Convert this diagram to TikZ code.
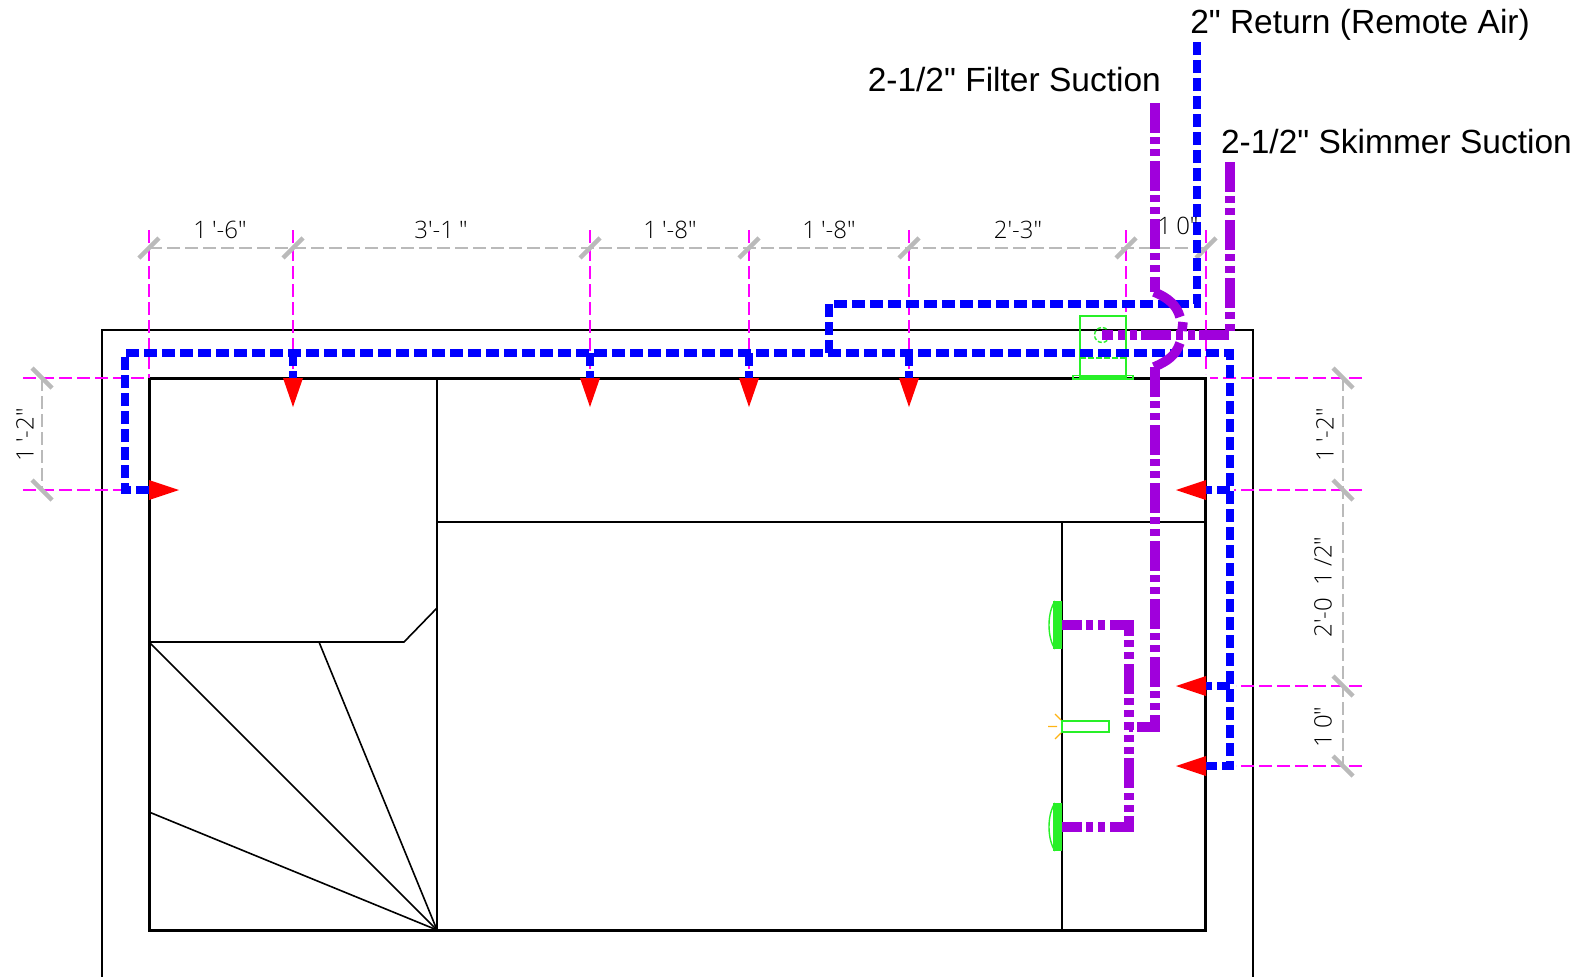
\documentclass[tikz,border=0pt]{standalone}
\usepackage{fontspec}
\newfontfamily\titlefont{Liberation Sans}
\newfontfamily\dimfont{Open Sans Light}
\definecolor{violet2}{RGB}{160,0,220}
\definecolor{green2}{RGB}{40,240,40}
\definecolor{orange2}{RGB}{255,180,20}
\definecolor{magenta2}{RGB}{255,0,255}
\newcommand{\oneg}{1\kern5pt}
\tikzset{
 wall/.style={draw=black,line width=1.8pt},
 pool/.style={draw=black,line width=3pt,line cap=round},
 thin/.style={draw=black,line width=1.6pt},
 mag/.style={draw=magenta2,line width=1.8pt,dash pattern=on 13pt off 5pt},
 dimln/.style={draw=black!27,line width=1.8pt,dash pattern=on 13pt off 5pt},
 tick/.style={draw=black!27,line width=4.5pt},
 blu/.style={draw=blue,line width=8.5pt,dash pattern=on 13pt off 5pt},
 pur/.style={draw=violet2,line width=9.5pt,dash pattern=on 30pt off 4pt on 7pt off 5pt on 7pt off 5pt},
 purs/.style={draw=violet2,line width=9.5pt},
 arw/.style={fill=red,draw=none},
 grn/.style={draw=green2,line width=1.4pt},
 dimtxt/.style={font=\dimfont\fontsize{24}{26}\selectfont,text=black,inner sep=0pt},
 title/.style={font=\titlefont\fontsize{33.5}{35}\selectfont,text=black,inner sep=0pt},
}
\begin{document}
\begin{tikzpicture}[x=1pt,y=-1pt]
\useasboundingbox (0,0) rectangle (1583,977);
\clip (0,0) rectangle (1583,977);
% walls
\draw[wall] (102,980) -- (102,330) -- (1253,330) -- (1253,980);
\draw[pool] (149,378.5) rectangle (1205.5,930);
\draw[thin] (437,378.5) -- (437,930);
\draw[thin] (437,522) -- (1205.5,522);
\draw[thin] (1062,522) -- (1062,930);
\draw[thin] (149,642) -- (404,642) -- (437,608);
\draw[thin] (149,642) -- (437,930);
\draw[thin] (319,642) -- (437,930);
\draw[thin] (149,812) -- (437,930);
% magenta extension lines
\foreach \x in {149,293,590,749,909}{\draw[mag] (\x,230) -- (\x,378);}
\draw[mag] (1126,230) -- (1126,312);
\draw[mag] (1206,230) -- (1206,374);
\draw[mag] (23,378) -- (147,378);
\draw[mag] (23,490) -- (122,490);
\draw[mag] (1362,378) -- (1210,378);
\draw[mag] (1362,490) -- (1234,490);
\draw[mag] (1362,686) -- (1236,686);
\draw[mag] (1362,766) -- (1236,766);
% dimension lines
\draw[dimln] (149,248) -- (1206,248);
\draw[dimln] (42,378) -- (42,490);
\draw[dimln] (1343,378) -- (1343,766);
\foreach \x in {149,293,590,749,909,1126,1206}{\draw[tick] (\x-10,258) -- (\x+10,238);}
\foreach \y in {378,490}{\draw[tick] (32,\y-10) -- (52,\y+10);}
\foreach \y in {378,490,686,766}{\draw[tick] (1333,\y-10) -- (1353,\y+10);}
% green items
\draw[grn] (1080,316) rectangle (1126,377);
\draw[grn] (1073,375.5) rectangle (1133,379);
\draw[grn,dash pattern=on 6pt off 2pt] (1080,358) -- (1126,358);
\draw[grn,dash pattern=on 4pt off 2pt] (1102,335) circle (7.5);
\foreach \y in {601,803}{
 \fill[green2] (1053,\y) rectangle (1062,\y+48);
 \draw[grn] (1055,\y) .. controls (1047,\y+12) and (1047,\y+36) .. (1055,\y+48);
}
\draw[green2,line width=2pt] (1062,721) rectangle (1109,732);
\draw[orange2,line width=1.2pt] (1048,726.5) -- (1057,726.5) (1055,714) -- (1061,720) (1055,739) -- (1061,733);
% blue piping
\draw[blu] (829,353) -- (829,304) -- (1197,304) -- (1197,42);
\draw[blu] (149,490) -- (125,490) -- (125,353) -- (1230,353) -- (1230,766) -- (1206,766);
\foreach \x in {293,590,749,909}{\draw[blu] (\x,353) -- (\x,378);}
\draw[blu] (1230,490) -- (1206,490);
\draw[blu] (1230,686) -- (1206,686);
% purple piping
\draw[pur] (1155,103) -- (1155,292);
\draw[purs] (1154,292) .. controls (1169,298) and (1177,306) .. (1180,317);
\draw[purs] (1183,322) -- (1182,331);
\draw[purs] (1180,343) .. controls (1176,355) and (1168,361) .. (1154,367);
\draw[pur] (1155,367) -- (1155,727) -- (1129,727);
\draw[pur] (1230,162) -- (1230,335) -- (1102,335);
\draw[pur,dash phase=10pt] (1062,625) -- (1129,625) -- (1129,727);
\draw[pur,dash phase=10pt] (1062,827) -- (1129,827) -- (1129,727);
% red arrows
\foreach \x in {293,590,749,909}{\fill[arw] (\x-10,378) -- (\x+10,378) -- (\x,407) -- cycle;}
\fill[arw] (149,480) -- (149,500) -- (179,490) -- cycle;
\foreach \y in {490,686,766}{\fill[arw] (1206,\y-10) -- (1206,\y+10) -- (1176,\y) -- cycle;}
% labels
\node[dimtxt] (d1) at (220,230) {\oneg'-6"};
\node[dimtxt] (d2) at (441,230) {3'-\oneg"};
\node[dimtxt] (d3) at (670,230) {\oneg'-8"};
\node[dimtxt] (d4) at (829,230) {\oneg'-8"};
\node[dimtxt] (d5) at (1018,230) {2'-3"};
\node[dimtxt] (d6) at (1178,226) {\oneg 0"};
\node[dimtxt,rotate=90] (d7) at (25,435) {\oneg'-2"};
\node[dimtxt,rotate=90] (d8) at (1325,435) {\oneg'-2"};
\node[dimtxt,rotate=90] (d9) at (1323,587) {2'-0\kern12pt\oneg/2"};
\node[dimtxt,rotate=90] (d10) at (1323,727) {\oneg 0"};
\node[title,anchor=base east] (t1) at (1530,34) {2" Return (Remote Air)};
\node[title,anchor=base east] (t2) at (1161,91) {2-1/2" Filter Suction};
\node[title,anchor=base east] (t3) at (1572,153) {2-1/2" Skimmer Suction};
\end{tikzpicture}
\end{document}
